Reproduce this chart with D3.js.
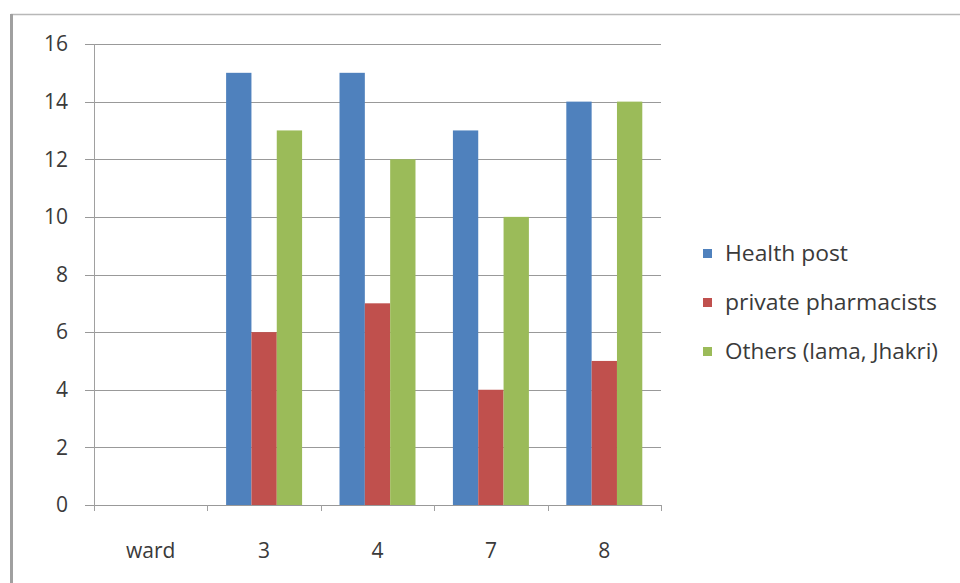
<!DOCTYPE html>
<html>
<head>
<meta charset="utf-8">
<script src="https://cdn.jsdelivr.net/npm/d3@7"></script>
<style>
  html, body { margin: 0; padding: 0; background: #ffffff; }
  svg { display: block; }
  text { font-family: "Open Sans", "Noto Sans", sans-serif; fill: #3a3a3a; }
</style>
</head>
<body>
<svg id="chart" width="960" height="583"></svg>
<script>
// Ward categories (first slot is the axis title column, left empty)
const categories = ["ward", "3", "4", "7", "8"];
const seriesNames = ["Health post", "private pharmacists", "Others (lama, Jhakri)"];
const healthPost = [null, 15, 15, 13, 14];
const privatePharmacists = [null, 6, 7, 4, 5];
const others = [null, 13, 12, 10, 14];
const yTicks = [0, 2, 4, 6, 8, 10, 12, 14, 16];
const colors = ["#4F81BD", "#C0504D", "#9BBB59"];

const seriesValues = [healthPost, privatePharmacists, others];

const svg = d3.select("#chart");

// outer chart frame
svg.append("rect")
  .attr("x", 11.5).attr("y", 14.5)
  .attr("width", 1000).attr("height", 700)
  .attr("fill", "#ffffff")
  .attr("stroke", "#b8b8b8").attr("stroke-width", 1.5);
svg.append("line")
  .attr("x1", 11.5).attr("x2", 11.5).attr("y1", 14).attr("y2", 583)
  .attr("stroke", "#a0a0a0").attr("stroke-width", 3);

const plot = { left: 94, right: 661, top: 44, bottom: 505 };

const x = d3.scaleBand()
  .domain(categories)
  .range([plot.left, plot.right])
  .paddingInner(0).paddingOuter(0);

const y = d3.scaleLinear()
  .domain([0, 16])
  .range([plot.bottom, plot.top]);

// inner band for the three series within each ward
const groupWidth = x.bandwidth() * 0.67;
const xs = d3.scaleBand()
  .domain(seriesNames)
  .range([(x.bandwidth() - groupWidth) / 2, (x.bandwidth() + groupWidth) / 2])
  .padding(0);

// gridlines
svg.append("g")
  .selectAll("line")
  .data(yTicks)
  .join("line")
  .attr("x1", plot.left - 9).attr("x2", plot.right)
  .attr("y1", d => Math.round(y(d)) + 0.5).attr("y2", d => Math.round(y(d)) + 0.5)
  .attr("stroke", "#999999").attr("stroke-width", 1);

// y axis line
svg.append("line")
  .attr("x1", plot.left + 0.5).attr("x2", plot.left + 0.5)
  .attr("y1", plot.top).attr("y2", plot.bottom + 6)
  .attr("stroke", "#a0a0a0");

// y tick labels
svg.append("g")
  .selectAll("text")
  .data(yTicks)
  .join("text")
  .attr("x", 68)
  .attr("y", d => y(d))
  .attr("dy", "0.35em")
  .attr("text-anchor", "end")
  .attr("font-size", 21)
  .text(d => d);

// bars
categories.forEach((cat, ci) => {
  const g = svg.append("g").attr("transform", `translate(${x(cat)},0)`);
  seriesNames.forEach((name, si) => {
    const v = seriesValues[si][ci];
    if (v == null) return;
    g.append("rect")
      .attr("x", xs(name))
      .attr("y", y(v))
      .attr("width", xs.bandwidth())
      .attr("height", y(0) - y(v))
      .attr("fill", colors[si]);
  });
});

// x axis line and category ticks
svg.append("line")
  .attr("x1", plot.left).attr("x2", plot.right)
  .attr("y1", plot.bottom + 0.5).attr("y2", plot.bottom + 0.5)
  .attr("stroke", "#999999");
const bounds = categories.map(c => x(c)).concat([x(categories[categories.length - 1]) + x.bandwidth()]);
svg.append("g")
  .selectAll("line")
  .data(bounds)
  .join("line")
  .attr("x1", d => Math.round(d) + 0.5).attr("x2", d => Math.round(d) + 0.5)
  .attr("y1", plot.bottom).attr("y2", plot.bottom + 6)
  .attr("stroke", "#a0a0a0");

// x labels
svg.append("g")
  .selectAll("text")
  .data(categories)
  .join("text")
  .attr("x", d => x(d) + x.bandwidth() / 2)
  .attr("y", 551)
  .attr("dy", "0.35em")
  .attr("text-anchor", "middle")
  .attr("font-size", 21)
  .text(d => d);

// legend
const legend = svg.append("g");
const legendRows = [254, 303, 352];
seriesNames.forEach((name, i) => {
  legend.append("rect")
    .attr("x", 703).attr("y", legendRows[i] - 5)
    .attr("width", 9).attr("height", 9)
    .attr("fill", colors[i]);
  legend.append("text")
    .attr("x", 725).attr("y", legendRows[i])
    .attr("dy", "0.35em")
    .attr("font-size", 21)
    .attr("textLength", [123, 212, 213][i])
    .attr("lengthAdjust", "spacingAndGlyphs")
    .text(name);
});
</script>
</body>
</html>
